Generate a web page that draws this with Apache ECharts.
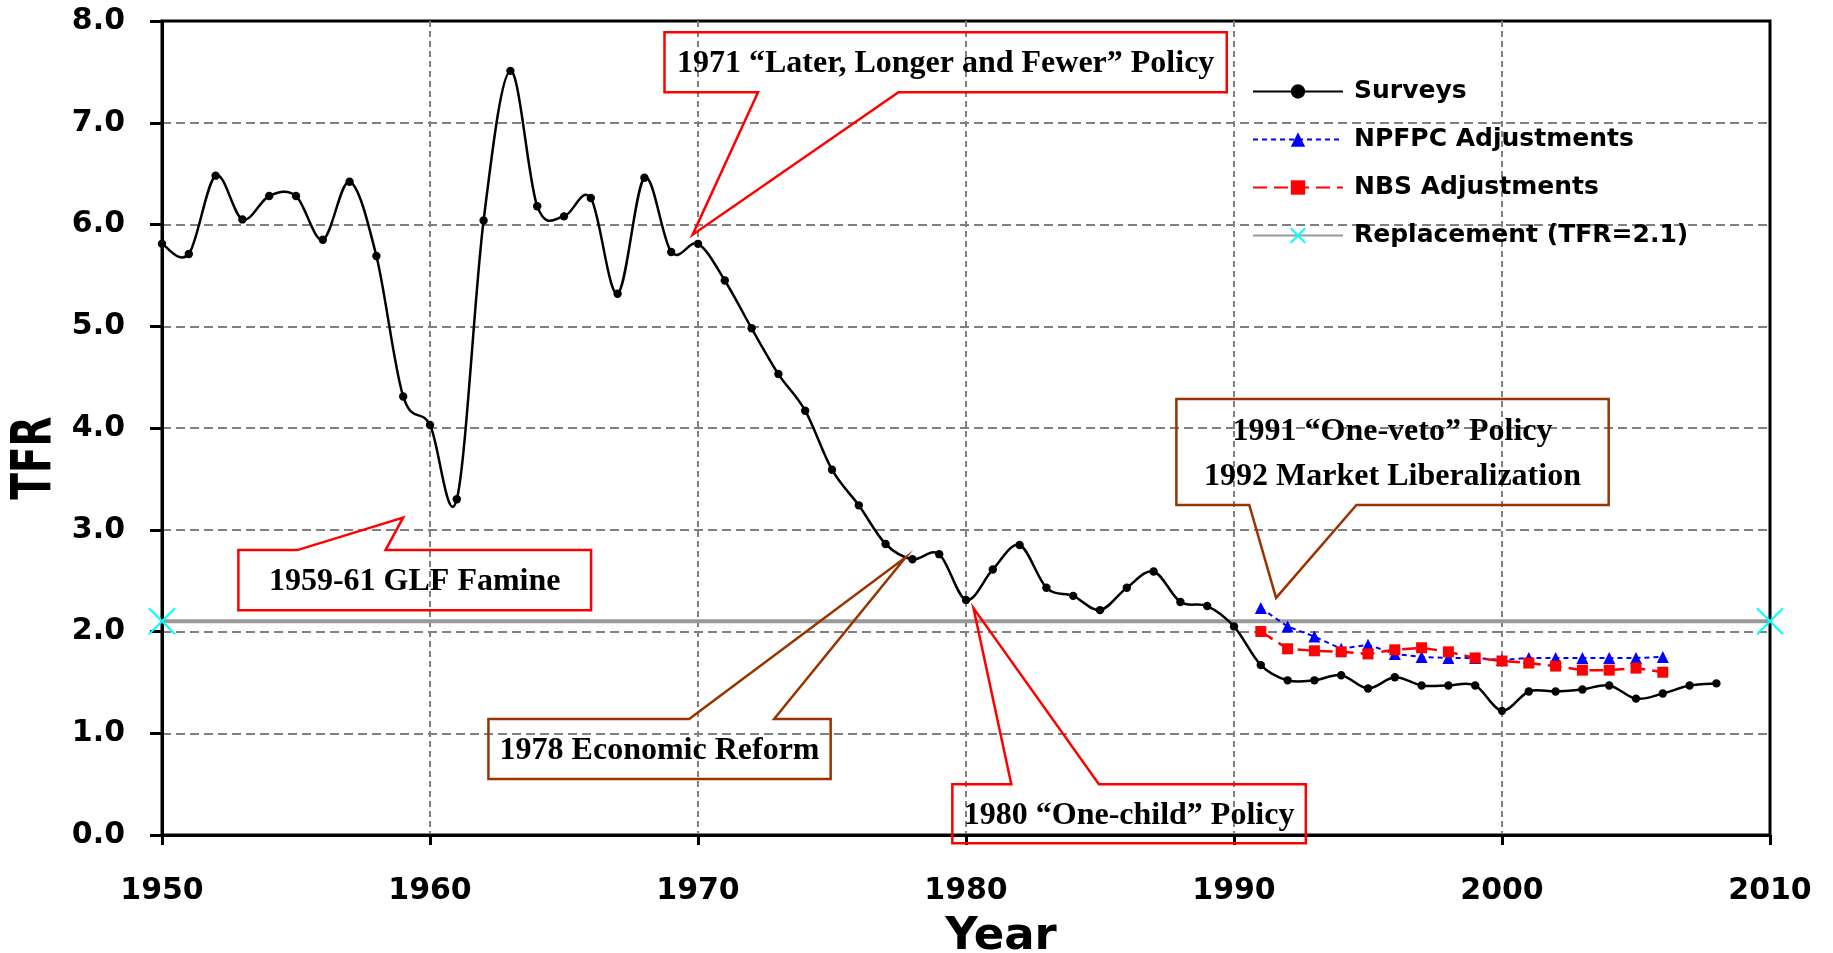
<!DOCTYPE html>
<html>
<head>
<meta charset="utf-8">
<script src="https://cdn.jsdelivr.net/npm/echarts@6/dist/echarts.min.js"></script>
<style>
  html, body { margin: 0; padding: 0; background: #fff; }
  #chart { width: 1833px; height: 953px; }
</style>
</head>
<body>
<div id="chart"></div>
<script>
// ---- data ----
const surveyYears = [
  1950, 1951, 1952, 1953, 1954, 1955, 1956, 1957, 1958, 1959,
  1960, 1961, 1962, 1963, 1964, 1965, 1966, 1967, 1968, 1969,
  1970, 1971, 1972, 1973, 1974, 1975, 1976, 1977, 1978, 1979,
  1980, 1981, 1982, 1983, 1984, 1985, 1986, 1987, 1988, 1989,
  1990, 1991, 1992, 1993, 1994, 1995, 1996, 1997, 1998, 1999,
  2000, 2001, 2002, 2003, 2004, 2005, 2006, 2007, 2008
];
const surveyTfr = [
  5.81, 5.71, 6.48, 6.05, 6.28, 6.28, 5.85, 6.42, 5.69, 4.31,
  4.03, 3.30, 6.04, 7.51, 6.18, 6.08, 6.26, 5.32, 6.46, 5.73,
  5.81, 5.45, 4.98, 4.53, 4.17, 3.59, 3.24, 2.86, 2.71, 2.76,
  2.31, 2.61, 2.85, 2.43, 2.35, 2.21, 2.43, 2.59, 2.29, 2.25,
  2.05, 1.67, 1.52, 1.52, 1.57, 1.44, 1.55, 1.47, 1.47, 1.47,
  1.22, 1.41, 1.41, 1.43, 1.47, 1.34, 1.39, 1.47, 1.49
];

const adjYears = [
  1991, 1992, 1993, 1994, 1995, 1996, 1997, 1998,
  1999, 2000, 2001, 2002, 2003, 2004, 2005, 2006
];
const npfpcTfr = [
  2.23, 2.05, 1.95, 1.83, 1.87, 1.78, 1.75, 1.74,
  1.74, 1.72, 1.74, 1.74, 1.74, 1.74, 1.74, 1.75
];
const nbsTfr = [
  2.00, 1.83, 1.81, 1.80, 1.78, 1.82, 1.84, 1.80,
  1.74, 1.71, 1.69, 1.66, 1.62, 1.62, 1.64, 1.60
];

const replacementYears = [1950, 2010];
const replacementTfr = [2.1, 2.1];

const seriesNames = ["Surveys", "NPFPC Adjustments", "NBS Adjustments", "Replacement (TFR=2.1)"];

const calloutTexts = [
  "1971 \u201cLater, Longer and Fewer\u201d Policy",
  "1959-61 GLF Famine",
  "1978 Economic Reform",
  "1980 \u201cOne-child\u201d Policy",
  "1991 \u201cOne-veto\u201d Policy\n1992 Market Liberalization"
];
// pointer tips (year, TFR)
const calloutTips = [
  [1969.8, 5.90],
  [1959.0, 3.12],
  [1977.75, 2.73],
  [1980.28, 2.23],
  [1991.57, 2.33]
];

// ---- layout of the callouts, in axis units ----
const calloutLayout = [
  { box: [1968.75, 7.89, 1989.73, 7.30], base: [1972.24, 1977.48], color: "#ff0000" },
  { box: [1952.85, 2.80, 1966.01, 2.21], base: [1955.05, 1958.34], color: "#ff0000" },
  { box: [1962.18, 1.14, 1974.95, 0.55], base: [1969.67, 1972.84], color: "#993300" },
  { box: [1979.49, 0.50, 1992.68, -0.08], base: [1981.69, 1984.96], color: "#ff0000" },
  { box: [1987.85, 4.285, 2003.98, 3.243], base: [1990.57, 1994.57], color: "#993300" }
];

const pairs = (xs, ys) => xs.map((x, i) => [x, ys[i]]);
const sansBold = { fontFamily: "DejaVu Sans", fontWeight: "bold", color: "#000" };

const chart = echarts.init(document.getElementById("chart"));

// Excel-like smoothed line: one bezier segment per point, control points from the neighbours
function renderSurveyItem(params, api) {
  const i = params.dataIndex;
  const n = surveyYears.length;
  const pt = (j) => {
    const k = Math.max(0, Math.min(n - 1, j));
    return api.coord([surveyYears[k], surveyTfr[k]]);
  };
  const p1 = pt(i);
  const children = [];
  if (i < n - 1) {
    const p0 = pt(i - 1);
    const p2 = pt(i + 1);
    const p3 = pt(i + 2);
    children.push({
      type: "bezierCurve",
      shape: {
        x1: p1[0], y1: p1[1], x2: p2[0], y2: p2[1],
        cpx1: p1[0] + (p2[0] - p0[0]) / 6, cpy1: p1[1] + (p2[1] - p0[1]) / 6,
        cpx2: p2[0] - (p3[0] - p1[0]) / 6, cpy2: p2[1] - (p3[1] - p1[1]) / 6
      },
      style: { stroke: "#000", lineWidth: 2.5, fill: null }
    });
  }
  children.push({
    type: "circle",
    shape: { cx: p1[0], cy: p1[1], r: 4.2 },
    style: { fill: "#000" }
  });
  return { type: "group", children };
}

const option = {
  animation: false,
  backgroundColor: "#fff",
  grid: {
    left: 162, right: 63, top: 21, bottom: 118,
    show: true, borderColor: "#000", borderWidth: 3
  },
  legend: {
    orient: "vertical",
    left: 1247, top: 73,
    itemWidth: 90, itemHeight: 18, itemGap: 21,
    textStyle: { ...sansBold, fontSize: 25, lineHeight: 27, padding: [0, 0, 0, 6] },
    data: seriesNames
  },
  xAxis: {
    type: "value", min: 1950, max: 2010, interval: 10,
    axisLine: { lineStyle: { color: "#000", width: 3 } },
    axisTick: { length: 10, lineStyle: { color: "#000", width: 3 } },
    axisLabel: { ...sansBold, fontSize: 30, margin: 41, formatter: v => String(v) },
    splitLine: {
      show: true, showMinLine: false, showMaxLine: false,
      lineStyle: { color: "#808080", width: 2, type: [6, 4] }
    }
  },
  yAxis: {
    type: "value", min: 0, max: 8, interval: 1,
    axisLine: { show: true, lineStyle: { color: "#000", width: 3 } },
    axisTick: { show: true, length: 12, lineStyle: { color: "#000", width: 3 } },
    axisLabel: { ...sansBold, fontSize: 30, margin: 37, formatter: v => v.toFixed(1) },
    splitLine: {
      show: true, showMinLine: false, showMaxLine: false,
      lineStyle: { color: "#808080", width: 2, type: [9, 5] }
    }
  },
  series: [
    {
      // legend entry for the survey curve
      name: seriesNames[0], type: "line", data: [],
      symbol: "circle", symbolSize: 8,
      itemStyle: { color: "#000" },
      lineStyle: { color: "#000", width: 2.5 }
    },
    {
      name: "Surveys curve", type: "custom", z: 5,
      coordinateSystem: "cartesian2d",
      data: pairs(surveyYears, surveyTfr),
      encode: { x: 0, y: 1 },
      renderItem: renderSurveyItem
    },
    {
      name: seriesNames[1], type: "line", z: 4,
      data: pairs(adjYears, npfpcTfr),
      symbol: "triangle", symbolSize: 12,
      itemStyle: { color: "#0000ff" },
      lineStyle: { color: "#0000ff", width: 2, type: [5, 4] }
    },
    {
      name: seriesNames[2], type: "line", z: 4,
      data: pairs(adjYears, nbsTfr),
      symbol: "rect", symbolSize: 11,
      itemStyle: { color: "#ff0000" },
      lineStyle: { color: "#ff0000", width: 2.5, type: [14, 7] }
    },
    {
      name: seriesNames[3], type: "line", z: 3, clip: false,
      data: pairs(replacementYears, replacementTfr),
      symbol: "path://M0,0L10,10M10,0L0,10", symbolSize: 26,
      itemStyle: { color: "#00ffff", borderColor: "#00ffff", borderWidth: 2 },
      lineStyle: { color: "#999999", width: 4 }
    }
  ]
};

chart.setOption(option);

function px(p) {
  return chart.convertToPixel({ gridIndex: 0 }, p);
}

function calloutGraphics() {
  const out = [];
  calloutLayout.forEach((c, i) => {
    const tl = px([c.box[0], c.box[1]]);
    const br = px([c.box[2], c.box[3]]);
    const tip = px(calloutTips[i]);
    const b1 = px([c.base[0], 0])[0];
    const b2 = px([c.base[1], 0])[0];
    const x0 = tl[0], y0 = tl[1], x1 = br[0], y1 = br[1];
    let pts;
    if (tip[1] > y1) {
      // tail hangs from the bottom edge
      pts = [[x0, y0], [x1, y0], [x1, y1], [b2, y1], tip, [b1, y1], [x0, y1]];
    } else {
      // tail rises from the top edge
      pts = [[x0, y0], [b1, y0], tip, [b2, y0], [x1, y0], [x1, y1], [x0, y1]];
    }
    out.push({
      type: "polygon", z: 20, silent: true,
      shape: { points: pts },
      style: { fill: "none", stroke: c.color, lineWidth: 2.5 }
    });
    out.push({
      type: "text", z: 21, silent: true,
      x: (x0 + x1) / 2, y: (y0 + y1) / 2 + 2,
      style: {
        text: calloutTexts[i],
        fontFamily: "Liberation Serif", fontWeight: "bold", fontSize: 32,
        lineHeight: 45, fill: "#000", align: "center", verticalAlign: "middle"
      }
    });
  });
  return out;
}

const titleGraphics = [
  {
    type: "text", silent: true, x: 1001, y: 937,
    style: {
      text: "Year", fontFamily: "DejaVu Sans", fontWeight: "bold", fontSize: 45,
      fill: "#000", align: "center", verticalAlign: "middle"
    }
  },
  {
    type: "text", silent: true, x: 36, y: 458, rotation: Math.PI / 2, scaleY: 1.4,
    style: {
      text: "TFR", fontFamily: "DejaVu Sans", fontWeight: "bold", fontSize: 39,
      fill: "#000", align: "center", verticalAlign: "middle"
    }
  }
];

chart.setOption({ graphic: calloutGraphics().concat(titleGraphics) });
</script>
</body>
</html>
